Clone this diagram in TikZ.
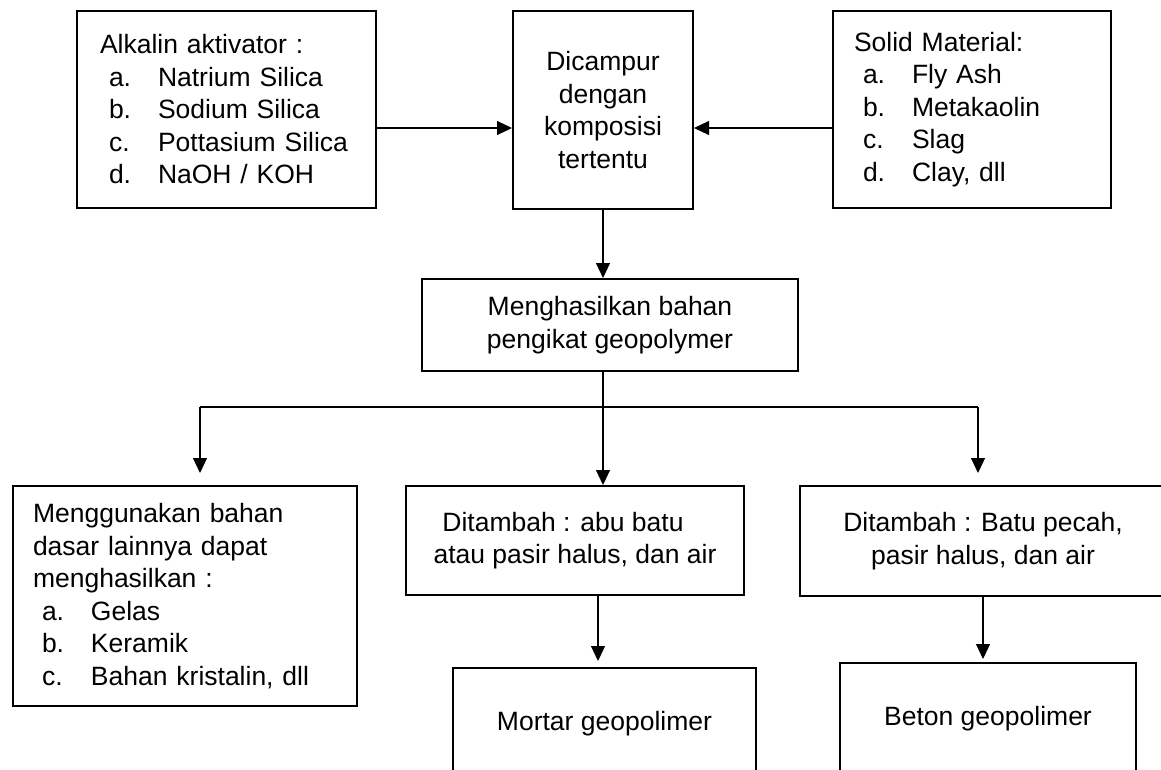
\documentclass[tikz,border=0pt]{standalone}
\usepackage{fontspec}
\setmainfont{Liberation Sans}
\usetikzlibrary{arrows.meta}
\newcommand\itm[2]{\hspace*{9pt}\makebox[49pt][l]{#1}#2}
\begin{document}
\begin{tikzpicture}[x=1pt,y=-1pt,
  box/.style={draw, line width=2pt, inner sep=0pt, font=\fontsize{26.5}{32.5}\selectfont},
  arr/.style={line width=1.1pt, -{Triangle[length=15pt,width=14pt]}},
  ]
\useasboundingbox (0,0) rectangle (1161,769);
\clip (0,0) rectangle (1161,769);

\node[box, anchor=north west, text width=253pt, inner xsep=23pt, minimum height=197pt, align=left] (alk) at (76,10)
  {Alkalin aktivator :\\ \itm{a.}{Natrium Silica}\\ \itm{b.}{Sodium Silica}\\ \itm{c.}{Pottasium Silica}\\ \itm{d.}{NaOH / KOH}};
\node[box, anchor=north west, minimum width=180pt, minimum height=198pt, align=center] (mix) at (512,10)
  {Dicampur\\dengan\\komposisi\\tertentu};
\node[box, anchor=north west, text width=236pt, inner xsep=21pt, minimum height=197pt, align=left] (solid) at (832,10)
  {Solid Material:\\ \itm{a.}{Fly Ash}\\ \itm{b.}{Metakaolin}\\ \itm{c.}{Slag}\\ \itm{d.}{Clay, dll}};
\node[box, anchor=north west, minimum width=376pt, minimum height=92pt, align=center] (hasil) at (421,278)
  {Menghasilkan bahan\\pengikat geopolymer};
\node[box, anchor=north west, text width=304pt, inner xsep=20pt, minimum height=220pt, align=left] (other) at (12,485)
  {Menggunakan bahan\\dasar lainnya dapat\\menghasilkan :\\ \itm{a.}{Gelas}\\ \itm{b.}{Keramik}\\ \itm{c.}{Bahan kristalin, dll}};
\node[box, anchor=north west, minimum width=338pt, minimum height=109pt, align=center] (add1) at (405,485)
  {Ditambah : abu batu\hspace*{24pt}\\atau pasir halus, dan air};
\node[box, anchor=north west, minimum width=366pt, minimum height=110pt, align=center] (add2) at (799,485)
  {Ditambah : Batu pecah,\\pasir halus, dan air};
\node[box, anchor=north west, minimum width=303pt, minimum height=112pt] (mortar) at (452,667)
  {Mortar geopolimer};
\node[box, anchor=north west, minimum width=296pt, minimum height=112pt] (beton) at (839,662)
  {Beton geopolimer};

\draw[arr] (alk.east |- 0,128) -- (mix.west |- 0,128);
\draw[arr] (solid.west |- 0,128) -- (mix.east |- 0,128);
\draw[arr] (mix.south) -- (mix.south |- hasil.north);

\coordinate (jl) at (200,407);
\coordinate (jc) at (603,407);
\coordinate (jr) at (978,407);
\draw[line width=1.1pt] (jl) -- (jr);
\draw[arr] (jc |- hasil.south) -- (jc |- add1.north);
\draw[arr, shorten >=12pt] (jl) -- (jl |- other.north);
\draw[arr, shorten >=12pt] (jr) -- (jr |- add2.north);

\draw[arr, shorten >=6pt] ([xshift=23pt]add1.south) -- ([xshift=23pt]add1.south |- mortar.north);
\draw[arr, shorten >=3pt] (add2.south) -- (add2.south |- beton.north);
\end{tikzpicture}
\end{document}
